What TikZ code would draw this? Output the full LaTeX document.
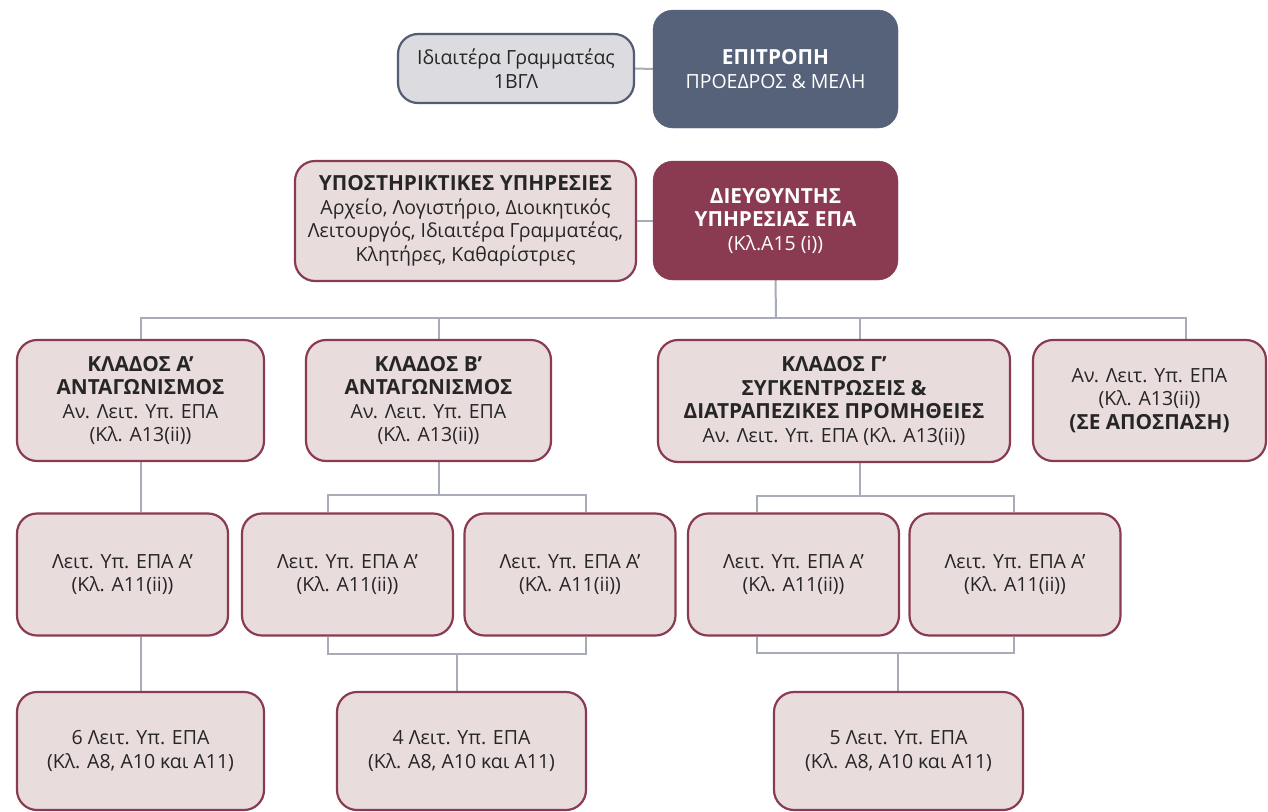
\documentclass[tikz,border=0pt]{standalone}
\usepackage{fontspec}
\setmainfont{Open Sans}
\usetikzlibrary{calc,backgrounds}
\definecolor{maroon}{HTML}{8A3B51}
\definecolor{pinkfill}{HTML}{E9DCDD}
\definecolor{slate}{HTML}{56627A}
\definecolor{greyfill}{HTML}{DCDBE0}
\definecolor{connc}{HTML}{A8ACB8}
\definecolor{txt}{HTML}{262626}
\newcommand{\bigbold}[1]{{\fontsize{20.8}{23.5}\selectfont\bfseries #1}}
\begin{document}
\begin{tikzpicture}[x=1pt,y=-1pt,
  box/.style={draw=maroon,fill=pinkfill,line width=2.2pt,rounded corners=20pt,
    align=center,text=txt,inner sep=0pt,
    font=\fontsize{19.5}{23.5}\selectfont},
  darkbox/.style={fill=#1,draw=#1,rounded corners=20pt,align=center,text=white,inner sep=0pt,
    font=\fontsize{19.5}{23.5}\selectfont},
  conn/.style={draw=connc,line width=2pt}]
\useasboundingbox (0,0) rectangle (1268,811);
% top row
\node[box,draw=slate!95!black,fill=greyfill,minimum width=236pt,minimum height=69pt] (sec) at (516,68.5)
  {Ιδιαιτέρα Γραμματέας\\1ΒΓΛ};
\node[darkbox=slate,minimum width=245pt,minimum height=118pt] (epi) at (775.5,69)
  {\bigbold{ΕΠΙΤΡΟΠΗ}\\ΠΡΟΕΔΡΟΣ \& ΜΕΛΗ};
% second row
\node[box,minimum width=341pt,minimum height=120pt] (sup) at (465.5,221)
  {\bigbold{ΥΠΟΣΤΗΡΙΚΤΙΚΕΣ ΥΠΗΡΕΣΙΕΣ}\\Αρχείο, Λογιστήριο, Διοικητικός\\Λειτουργός, Ιδιαιτέρα Γραμματέας,\\Κλητήρες, Καθαρίστριες};
\node[darkbox=maroon,minimum width=245pt,minimum height=119pt] (dir) at (775.5,220.5)
  {\bigbold{ΔΙΕΥΘΥΝΤΗΣ}\\\bigbold{ΥΠΗΡΕΣΙΑΣ ΕΠΑ}\\(Κλ.Α15 (i))};
% branches
\node[box,minimum width=247pt,minimum height=121pt] (ka) at (140.5,400.5)
  {\bigbold{ΚΛΑΔΟΣ Α’}\\\bigbold{ΑΝΤΑΓΩΝΙΣΜΟΣ}\\Αν. Λειτ. Υπ. ΕΠΑ\\(Κλ. Α13(ii))};
\node[box,minimum width=245pt,minimum height=121pt] (kb) at (428.5,400.5)
  {\bigbold{ΚΛΑΔΟΣ Β’}\\\bigbold{ΑΝΤΑΓΩΝΙΣΜΟΣ}\\Αν. Λειτ. Υπ. ΕΠΑ\\(Κλ. Α13(ii))};
\node[box,minimum width=352pt,minimum height=122pt] (kg) at (834,401)
  {\bigbold{ΚΛΑΔΟΣ Γ’}\\\bigbold{ΣΥΓΚΕΝΤΡΩΣΕΙΣ \&}\\\bigbold{ΔΙΑΤΡΑΠΕΖΙΚΕΣ ΠΡΟΜΗΘΕΙΕΣ}\\Αν. Λειτ. Υπ. ΕΠΑ (Κλ. Α13(ii))};
\node[box,minimum width=233pt,minimum height=121pt] (kd) at (1149.5,400.5)
  {Αν. Λειτ. Υπ. ΕΠΑ\\(Κλ. Α13(ii))\\\bigbold{(ΣΕ ΑΠΟΣΠΑΣΗ)}};
% third row
\node[box,minimum width=211pt,minimum height=122pt] (l1) at (122.5,574.5) {Λειτ. Υπ. ΕΠΑ Α’\\(Κλ. Α11(ii))};
\node[box,minimum width=211pt,minimum height=122pt] (l2) at (347.5,574.5) {Λειτ. Υπ. ΕΠΑ Α’\\(Κλ. Α11(ii))};
\node[box,minimum width=211pt,minimum height=122pt] (l3) at (570,574.5) {Λειτ. Υπ. ΕΠΑ Α’\\(Κλ. Α11(ii))};
\node[box,minimum width=211pt,minimum height=122pt] (l4) at (793.5,574.5) {Λειτ. Υπ. ΕΠΑ Α’\\(Κλ. Α11(ii))};
\node[box,minimum width=211pt,minimum height=122pt] (l5) at (1015,574.5) {Λειτ. Υπ. ΕΠΑ Α’\\(Κλ. Α11(ii))};
% bottom row
\node[box,minimum width=247pt,minimum height=118pt] (b1) at (140.5,751) {6 Λειτ. Υπ. ΕΠΑ\\(Κλ. Α8, Α10 και Α11)};
\node[box,minimum width=249pt,minimum height=118pt] (b2) at (461.5,751) {4 Λειτ. Υπ. ΕΠΑ\\(Κλ. Α8, Α10 και Α11)};
\node[box,minimum width=249pt,minimum height=118pt] (b3) at (898.5,751) {5 Λειτ. Υπ. ΕΠΑ\\(Κλ. Α8, Α10 και Α11)};
% connector anchor points
\coordinate (kbT) at ($(kb.north)+(10.5,0)$);
\coordinate (kbB) at ($(kb.south)+(10.5,0)$);
\coordinate (kgT) at ($(kg.north)+(26,0)$);
\coordinate (kgB) at ($(kg.south)+(26,0)$);
\coordinate (kdT) at ($(kd.north)+(36.5,0)$);
\coordinate (l2T) at ($(l2.north)+(-19.5,0)$);
\coordinate (l2B) at ($(l2.south)+(-19.5,0)$);
\coordinate (l3T) at ($(l3.north)+(16,0)$);
\coordinate (l3B) at ($(l3.south)+(16,0)$);
\coordinate (l4T) at ($(l4.north)+(-36.5,0)$);
\coordinate (l4B) at ($(l4.south)+(-36.5,0)$);
\coordinate (l5T) at ($(l5.north)+(-1,0)$);
\coordinate (l5B) at ($(l5.south)+(-1,0)$);
\coordinate (busA) at (776,318);
\coordinate (busB) at (439,495);
\coordinate (busC) at (860,496);
\coordinate (busD) at (457,654);
\coordinate (busE) at (898,653);
% connectors
\begin{scope}[on background layer]
\fill[white] (0,0) rectangle (1268,811);
\draw[conn] (sec.east) -- (epi.west);
\draw[conn] (sup.east) -- (sup.east -| dir.west);
\draw[conn] (dir.south) -- (busA);
\draw[conn] (ka.north) -- (ka.north |- busA) -- (kdT |- busA) -- (kdT);
\draw[conn] (kbT) -- (kbT |- busA);
\draw[conn] (kgT) -- (kgT |- busA);
% level 3
\draw[conn] (ka.south) -- (ka.south |- l1.north);
\draw[conn] (kbB) -- (busB);
\draw[conn] (l2T) |- (busB);
\draw[conn] (l3T) |- (busB);
\draw[conn] (kgB) -- (busC);
\draw[conn] (l4T) |- (busC);
\draw[conn] (l5T) |- (busC);
% level 4
\draw[conn] (b1.north |- l1.south) -- (b1.north);
\draw[conn] (l2B) |- (busD);
\draw[conn] (l3B) |- (busD);
\draw[conn] (busD) -- (busD |- b2.north);
\draw[conn] (l4B) |- (busE);
\draw[conn] (l5B) |- (busE);
\draw[conn] (busE) -- (busE |- b3.north);
\end{scope}
\end{tikzpicture}
\end{document}
